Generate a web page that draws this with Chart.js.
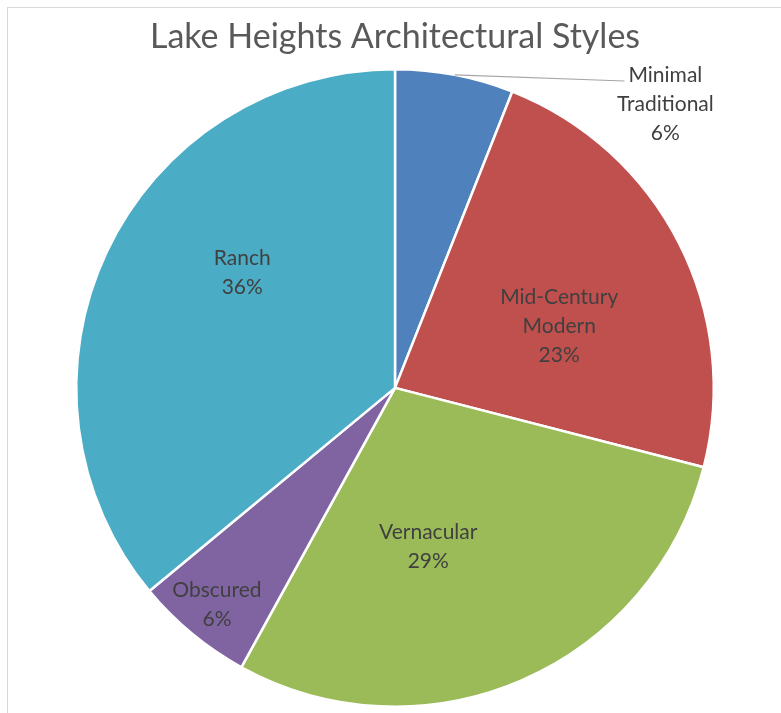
<!DOCTYPE html>
<html>
<head>
<meta charset="utf-8">
<script src="https://cdn.jsdelivr.net/npm/chart.js@4/dist/chart.umd.min.js"></script>
<style>
  html, body { margin: 0; padding: 0; background: #fff; overflow: hidden; }
  #frame { position: absolute; left: 7px; top: 7px; width: 900px; height: 900px; border: 1px solid #d9d9d9; }
  #wrap { position: absolute; left: 0; top: 0; width: 781px; height: 713px; }
</style>
</head>
<body>
<div id="frame"></div>
<div id="wrap"><canvas id="pie"></canvas></div>
<script>
// style counts (percent)
const styles = ['Minimal Traditional', 'Mid-Century Modern', 'Vernacular', 'Obscured', 'Ranch'];
const shares = [6, 23, 29, 6, 36];
const sliceColors = ['#4f81bd', '#c0504d', '#9bbb59', '#8064a2', '#4bacc6'];

// label text lines per slice
const labelLines = [
  ['Minimal', 'Traditional'],
  ['Mid-Century', 'Modern'],
  ['Vernacular'],
  ['Obscured'],
  ['Ranch']
];
// where each label sits: fraction of radius and angle (deg, clockwise from top)
const labelSpots = [
  { r: 1.23, a: 43.6, leader: true },
  { r: 0.55, a: 69.5 },
  { r: 0.51, a: 168.2 },
  { r: 0.88, a: 219.4 },
  { r: 0.60, a: 307 }
];

const labelFont = '21px Lato';
const lineGap = 29;

const pieLabels = {
  id: 'pieLabels',
  afterDatasetsDraw(chart) {
    const c = chart.ctx;
    const meta = chart.getDatasetMeta(0);
    const total = shares.reduce((s, v) => s + v, 0);
    c.save();
    c.font = labelFont;
    c.fillStyle = '#404040';
    c.textAlign = 'center';
    c.textBaseline = 'middle';
    meta.data.forEach((arc, i) => {
      const p = arc.getProps(['x', 'y', 'outerRadius', 'startAngle', 'endAngle']);
      const spot = labelSpots[i];
      const ang = (spot.a - 90) * Math.PI / 180;
      const lx = p.x + Math.cos(ang) * p.outerRadius * spot.r;
      const lines = labelLines[i].concat([Math.round(shares[i] / total * 100) + '%']);
      const y0 = p.y + Math.sin(ang) * p.outerRadius * spot.r - (lines.length - 1) * lineGap / 2;
      lines.forEach((t, k) => c.fillText(t, lx, y0 + k * lineGap));
      if (spot.leader) {
        const mid = (p.startAngle + p.endAngle) / 2;
        const sx = p.x + Math.cos(mid) * p.outerRadius;
        const sy = p.y + Math.sin(mid) * p.outerRadius;
        const ex = lx - c.measureText(lines[0]).width / 2 - 4;
        c.strokeStyle = '#a6a6a6';
        c.lineWidth = 1.2;
        c.beginPath();
        c.moveTo(sx, sy);
        c.lineTo(ex, y0 + 6);
        c.stroke();
      }
    });
    c.restore();
  }
};

new Chart(document.getElementById('pie'), {
  type: 'pie',
  data: {
    labels: styles,
    datasets: [{
      data: shares,
      backgroundColor: sliceColors,
      borderColor: '#ffffff',
      borderWidth: 2.5,
      offset: 0,
      hoverOffset: 0
    }]
  },
  options: {
    responsive: true,
    maintainAspectRatio: false,
    animation: false,
    events: [],
    layout: { padding: { top: 0, bottom: 5, left: 75, right: 66 } },
    plugins: {
      legend: { display: false },
      tooltip: { enabled: false },
      title: {
        display: true,
        text: 'Lake Heights Architectural Styles',
        color: '#595959',
        font: { family: 'Lato', size: 34, weight: 'normal', lineHeight: 1.2 },
        padding: { top: 17, bottom: 10 }
      }
    }
  },
  plugins: [pieLabels]
});
</script>
</body>
</html>
